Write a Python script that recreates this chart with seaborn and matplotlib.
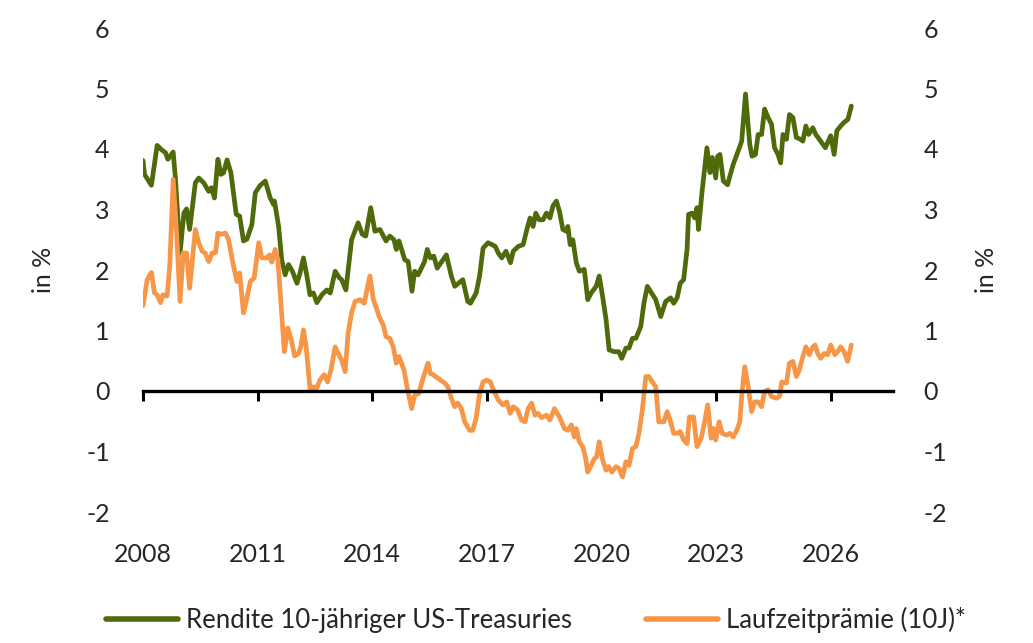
import numpy as np
import pandas as pd
import matplotlib
matplotlib.use("Agg")
import matplotlib.pyplot as plt
from matplotlib.lines import Line2D
import seaborn as sns

# 10-year US Treasury yield, in %
yield_years = [
    2008.00, 2008.04, 2008.22, 2008.37, 2008.50, 2008.59, 2008.65, 2008.79, 2008.85, 2008.97,
    2009.07, 2009.14, 2009.22, 2009.37, 2009.46, 2009.59, 2009.72, 2009.79, 2009.87, 2009.96,
    2010.04, 2010.11, 2010.20, 2010.30, 2010.44, 2010.53, 2010.63, 2010.72, 2010.85, 2010.94,
    2011.07, 2011.20, 2011.33, 2011.42, 2011.44, 2011.55, 2011.63, 2011.72, 2011.81, 2011.91,
    2012.03, 2012.11, 2012.20, 2012.29, 2012.37, 2012.46, 2012.55, 2012.68, 2012.81, 2012.90,
    2013.03, 2013.14, 2013.20, 2013.31, 2013.46, 2013.63, 2013.74, 2013.83, 2013.96, 2014.07,
    2014.20, 2014.36, 2014.46, 2014.57, 2014.63, 2014.70, 2014.85, 2014.94, 2015.04, 2015.11,
    2015.20, 2015.37, 2015.44, 2015.52, 2015.61, 2015.70, 2015.94, 2016.07, 2016.16, 2016.37,
    2016.50, 2016.57, 2016.72, 2016.81, 2016.90, 2017.03, 2017.13, 2017.22, 2017.30, 2017.39,
    2017.50, 2017.62, 2017.69, 2017.82, 2017.95, 2018.06, 2018.13, 2018.21, 2018.28, 2018.37,
    2018.47, 2018.56, 2018.65, 2018.73, 2018.82, 2018.90, 2018.99, 2019.08, 2019.12, 2019.18,
    2019.25, 2019.34, 2019.42, 2019.55, 2019.64, 2019.73, 2019.86, 2019.94, 2020.03, 2020.12,
    2020.20, 2020.33, 2020.45, 2020.53, 2020.64, 2020.72, 2020.81, 2020.90, 2021.03, 2021.11,
    2021.20, 2021.29, 2021.42, 2021.55, 2021.68, 2021.81, 2021.89, 2021.98, 2022.06, 2022.15,
    2022.24, 2022.28, 2022.37, 2022.44, 2022.50, 2022.54, 2022.63, 2022.76, 2022.84, 2022.90,
    2022.99, 2023.04, 2023.10, 2023.19, 2023.30, 2023.36, 2023.45, 2023.58, 2023.67, 2023.77,
    2023.88, 2023.94, 2024.03, 2024.10, 2024.19, 2024.27, 2024.36, 2024.45, 2024.53, 2024.62,
    2024.69, 2024.75, 2024.84, 2024.92, 2025.01, 2025.10, 2025.21, 2025.27, 2025.35, 2025.42,
    2025.53, 2025.61, 2025.70, 2025.86, 2026.00, 2026.09, 2026.16, 2026.26, 2026.35, 2026.45,
    2026.54,
]
yield_values = [
    3.81, 3.58, 3.40, 4.06, 3.98, 3.94, 3.83, 3.95, 3.50, 2.28,
    2.94, 3.01, 2.67, 3.44, 3.52, 3.44, 3.30, 3.36, 3.19, 3.83,
    3.58, 3.61, 3.82, 3.61, 2.92, 2.89, 2.48, 2.51, 2.75, 3.28,
    3.40, 3.47, 3.19, 3.08, 3.14, 2.72, 2.17, 1.92, 2.09, 1.98,
    1.78, 1.95, 2.20, 1.90, 1.59, 1.62, 1.46, 1.59, 1.67, 1.62,
    1.98, 1.87, 1.84, 1.67, 2.50, 2.78, 2.59, 2.56, 3.03, 2.64,
    2.67, 2.48, 2.56, 2.50, 2.34, 2.48, 2.17, 2.14, 1.65, 1.98,
    1.92, 2.14, 2.34, 2.20, 2.23, 2.03, 2.25, 1.90, 1.73, 1.84,
    1.48, 1.45, 1.62, 1.90, 2.36, 2.45, 2.42, 2.39, 2.28, 2.20,
    2.31, 2.12, 2.31, 2.39, 2.42, 2.70, 2.86, 2.72, 2.94, 2.83,
    2.83, 2.94, 2.86, 3.06, 3.14, 2.97, 2.67, 2.64, 2.72, 2.42,
    2.50, 2.12, 1.98, 2.01, 1.51, 1.62, 1.73, 1.90, 1.56, 1.18,
    0.68, 0.65, 0.65, 0.54, 0.71, 0.71, 0.87, 0.87, 1.07, 1.45,
    1.73, 1.64, 1.51, 1.23, 1.48, 1.54, 1.45, 1.54, 1.78, 1.84,
    2.34, 2.92, 2.94, 2.86, 3.03, 2.67, 3.28, 4.02, 3.61, 3.86,
    3.52, 3.88, 3.91, 3.47, 3.41, 3.55, 3.75, 3.97, 4.13, 4.91,
    4.08, 3.88, 3.91, 4.24, 4.24, 4.66, 4.52, 4.41, 4.02, 3.91,
    3.77, 4.24, 4.16, 4.57, 4.52, 4.19, 4.16, 4.13, 4.38, 4.24,
    4.35, 4.24, 4.16, 4.02, 4.22, 3.91, 4.30, 4.38, 4.44, 4.49,
    4.71,
]

# term premium (10y), in %
premium_years = [
    2008.00, 2008.11, 2008.22, 2008.30, 2008.37, 2008.46, 2008.52, 2008.63, 2008.70, 2008.79,
    2008.88, 2008.97, 2009.05, 2009.14, 2009.22, 2009.37, 2009.46, 2009.55, 2009.63, 2009.72,
    2009.81, 2009.90, 2009.96, 2010.04, 2010.16, 2010.24, 2010.37, 2010.46, 2010.53, 2010.63,
    2010.72, 2010.81, 2010.91, 2011.03, 2011.11, 2011.24, 2011.31, 2011.37, 2011.46, 2011.53,
    2011.63, 2011.70, 2011.79, 2011.88, 2011.97, 2012.07, 2012.13, 2012.20, 2012.27, 2012.37,
    2012.46, 2012.53, 2012.63, 2012.74, 2012.83, 2012.92, 2013.03, 2013.11, 2013.20, 2013.29,
    2013.37, 2013.46, 2013.55, 2013.68, 2013.79, 2013.87, 2013.94, 2014.03, 2014.11, 2014.18,
    2014.29, 2014.36, 2014.46, 2014.55, 2014.63, 2014.70, 2014.83, 2014.92, 2015.03, 2015.11,
    2015.22, 2015.33, 2015.40, 2015.46, 2015.52, 2015.59, 2015.72, 2015.90, 2015.98, 2016.07,
    2016.16, 2016.24, 2016.33, 2016.42, 2016.55, 2016.63, 2016.72, 2016.81, 2016.90, 2017.00,
    2017.09, 2017.17, 2017.30, 2017.42, 2017.52, 2017.61, 2017.69, 2017.80, 2017.91, 2018.00,
    2018.08, 2018.17, 2018.26, 2018.34, 2018.43, 2018.56, 2018.65, 2018.77, 2018.90, 2019.03,
    2019.12, 2019.21, 2019.29, 2019.34, 2019.42, 2019.51, 2019.58, 2019.64, 2019.73, 2019.81,
    2019.87, 2019.94, 2020.03, 2020.12, 2020.19, 2020.27, 2020.38, 2020.46, 2020.55, 2020.64,
    2020.72, 2020.81, 2020.90, 2020.98, 2021.07, 2021.16, 2021.24, 2021.33, 2021.42, 2021.50,
    2021.63, 2021.72, 2021.81, 2021.89, 2021.98, 2022.06, 2022.15, 2022.24, 2022.30, 2022.41,
    2022.50, 2022.61, 2022.70, 2022.78, 2022.87, 2022.93, 2022.99, 2023.08, 2023.16, 2023.28,
    2023.36, 2023.45, 2023.54, 2023.62, 2023.68, 2023.75, 2023.84, 2023.93, 2024.01, 2024.10,
    2024.19, 2024.27, 2024.36, 2024.45, 2024.58, 2024.66, 2024.72, 2024.84, 2024.92, 2025.01,
    2025.10, 2025.18, 2025.27, 2025.35, 2025.44, 2025.51, 2025.59, 2025.66, 2025.74, 2025.83,
    2025.92, 2026.00, 2026.11, 2026.18, 2026.26, 2026.35, 2026.44, 2026.54,
]
premium_values = [
    1.41, 1.84, 1.96, 1.62, 1.59, 1.46, 1.59, 1.57, 2.06, 3.50,
    2.61, 1.48, 2.28, 2.28, 1.70, 2.67, 2.45, 2.31, 2.28, 2.14,
    2.28, 2.29, 2.61, 2.59, 2.61, 2.50, 2.06, 1.81, 1.95, 1.29,
    1.54, 1.81, 1.87, 2.45, 2.20, 2.20, 2.25, 2.13, 2.34, 2.17,
    1.29, 0.65, 1.04, 0.85, 0.58, 0.62, 0.73, 1.01, 0.73, 0.04,
    0.07, 0.02, 0.18, 0.27, 0.15, 0.35, 0.73, 0.62, 0.51, 0.32,
    0.96, 1.29, 1.48, 1.51, 1.45, 1.70, 1.90, 1.51, 1.37, 1.23,
    1.09, 0.90, 0.87, 0.73, 0.46, 0.57, 0.35, 0.04, -0.29, -0.07,
    -0.04, 0.21, 0.35, 0.46, 0.29, 0.27, 0.21, 0.13, 0.07, -0.12,
    -0.26, -0.20, -0.29, -0.51, -0.65, -0.65, -0.45, -0.04, 0.15, 0.18,
    0.15, 0.02, -0.15, -0.23, -0.18, -0.37, -0.26, -0.31, -0.48, -0.51,
    -0.29, -0.20, -0.40, -0.37, -0.44, -0.40, -0.48, -0.29, -0.43, -0.62,
    -0.65, -0.56, -0.76, -0.62, -0.84, -0.92, -1.09, -1.34, -1.23, -1.12,
    -1.09, -0.84, -1.14, -1.31, -1.25, -1.34, -1.25, -1.28, -1.42, -1.17,
    -1.23, -0.95, -0.92, -0.70, -0.31, 0.24, 0.24, 0.15, 0.07, -0.51,
    -0.51, -0.34, -0.51, -0.70, -0.70, -0.67, -0.81, -0.87, -0.43, -0.43,
    -0.92, -0.78, -0.51, -0.23, -0.78, -0.62, -0.81, -0.51, -0.70, -0.73,
    -0.70, -0.76, -0.65, -0.51, -0.01, 0.40, 0.07, -0.34, -0.18, -0.18,
    -0.26, -0.01, 0.02, -0.09, -0.12, -0.09, 0.15, 0.13, 0.46, 0.49,
    0.24, 0.35, 0.57, 0.73, 0.60, 0.71, 0.76, 0.62, 0.54, 0.62,
    0.60, 0.76, 0.60, 0.65, 0.73, 0.65, 0.49, 0.76,
]

series_names = ["Rendite 10-jähriger US-Treasuries", "Laufzeitprämie (10J)*"]
series_colors = ["#4F6A0A", "#F79646"]
year_ticks = [2008, 2011, 2014, 2017, 2020, 2023, 2026]
value_ticks = [-2, -1, 0, 1, 2, 3, 4, 5, 6]

df = pd.concat([
    pd.DataFrame({"year": yield_years, "value": yield_values, "series": series_names[0]}),
    pd.DataFrame({"year": premium_years, "value": premium_values, "series": series_names[1]}),
])

sns.set_style("white")
plt.rcParams["font.family"] = ["Lato", "DejaVu Sans"]
plt.rcParams["font.size"] = 18

fig = plt.figure(figsize=(10.33, 6.43), dpi=100)
ax = fig.add_axes([143 / 1033, 1 - 512 / 643, 750 / 1033, 484 / 643])

sns.lineplot(data=df, x="year", y="value", hue="series", hue_order=series_names,
             palette=series_colors, linewidth=3.4, estimator=None, sort=False,
             legend=False, ax=ax)

ax.set_xlim(2008, 2027.63)
ax.set_ylim(-2, 6)
ax.set_yticks(value_ticks)
ax.set_yticklabels([str(v) for v in value_ticks])
ax.set_xlabel("")
ax.set_ylabel("in %", labelpad=22)

for side in ["top", "right", "left"]:
    ax.spines[side].set_visible(False)
ax.spines["bottom"].set_position(("data", 0))
ax.spines["bottom"].set_linewidth(2.4)
ax.spines["bottom"].set_color("black")
ax.set_xticks(year_ticks)
ax.tick_params(axis="x", bottom=True, direction="out", length=7, width=2.2,
               color="black", labelbottom=False)
ax.tick_params(axis="y", left=False, length=0, pad=24)

# year labels sit below the plot, not on the zero line
sec = ax.secondary_xaxis(0)
sec.set_xticks(year_ticks)
sec.set_xticklabels([str(y) for y in year_ticks])
sec.tick_params(length=0, pad=22)
sec.spines["bottom"].set_visible(False)

twin = ax.twinx()
twin.set_ylim(-2, 6)
twin.set_yticks(value_ticks)
twin.set_yticklabels([str(v) for v in value_ticks])
twin.tick_params(axis="y", length=0, pad=22)
twin.set_ylabel("in %", labelpad=20)
for side in ["top", "right", "left", "bottom"]:
    twin.spines[side].set_visible(False)

handles = [Line2D([0], [0], color=c, linewidth=4) for c in series_colors]
fig.legend(handles, series_names, loc="center", bbox_to_anchor=(0.519, 1 - 620 / 643),
           ncol=2, frameon=False, handlelength=2.8, handletextpad=0.3,
           columnspacing=2.9, fontsize=18.5)

fig.savefig("out.png", dpi=100)
